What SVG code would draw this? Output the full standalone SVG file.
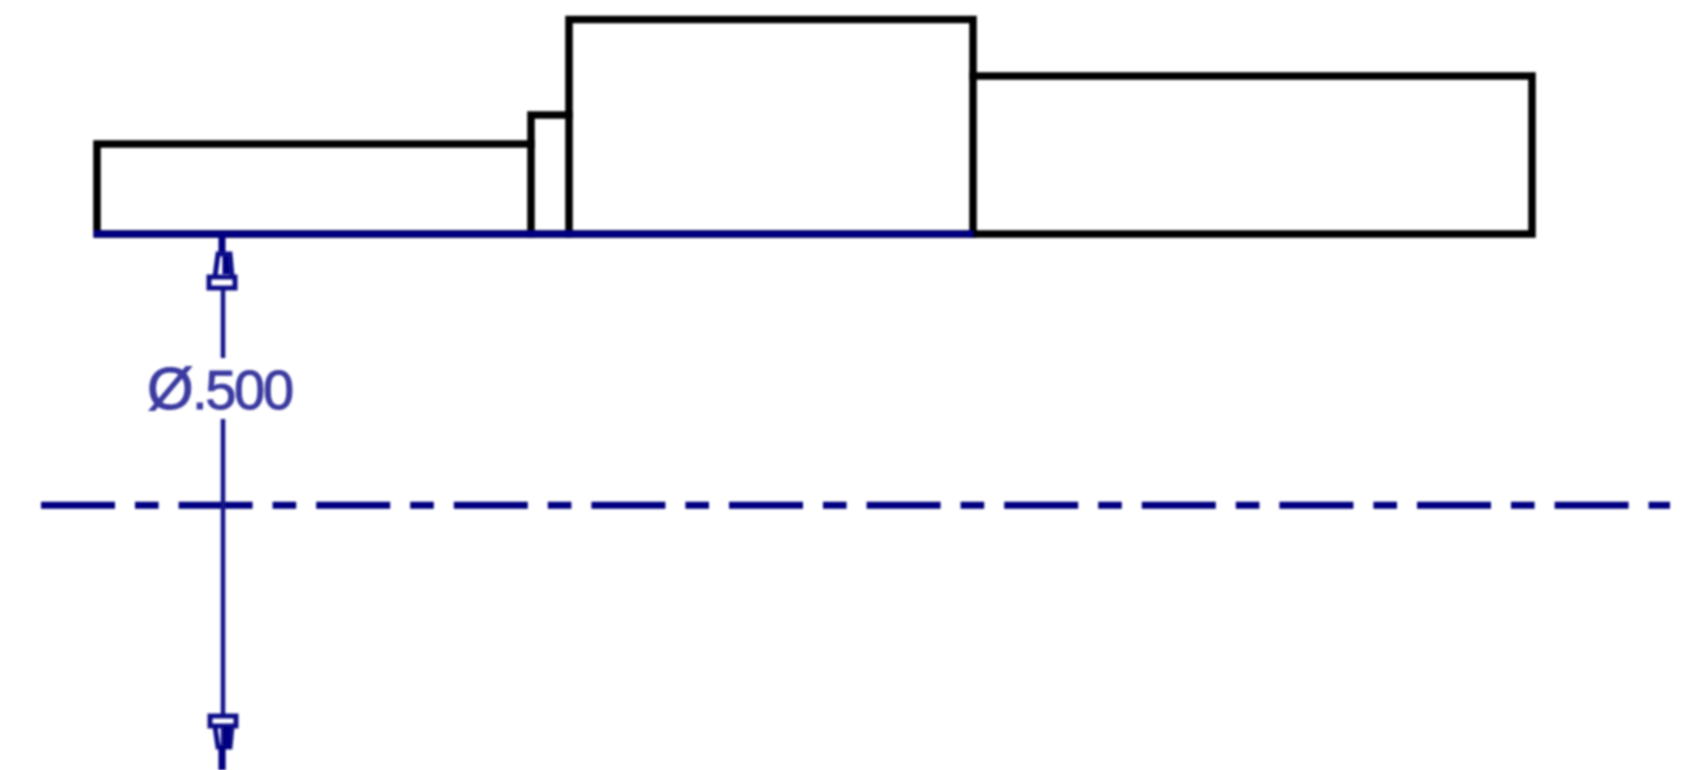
<svg xmlns="http://www.w3.org/2000/svg" width="1699" height="770" viewBox="0 0 1699 770">
<style>
.part{fill:none;stroke:#000;stroke-width:7.5;stroke-linejoin:miter;stroke-linecap:square}
.dim{fill:none;stroke:#16168c;stroke-width:4.5}
.base{fill:none;stroke:#000080;stroke-width:7}
.center{fill:none;stroke:#000080;stroke-width:7;stroke-dasharray:74 20 23.6 20}
.head{fill:none;stroke:#10108a;stroke-width:5;stroke-linejoin:miter}
.heavy{fill:none;stroke:#000080;stroke-width:7}
.label{font-family:"Liberation Sans",Arial,sans-serif;font-size:56px;fill:#3a3aa0;stroke:#3a3aa0;stroke-width:1}
</style>
<defs><filter id="soft" filterUnits="userSpaceOnUse" x="0" y="0" width="1699" height="770"><feGaussianBlur stdDeviation="1"/></filter></defs>
<rect width="1699" height="770" fill="#fff"/>
<g filter="url(#soft)">
<g id="shaft">
<path class="part" d="M97 234V144H531V115H569V19.500H973V76H1532V234H97"/>
<path class="part" d="M531 144V234M569 115V234M973 76V234"/>
</g>
<g id="connectors">
<path class="base" d="M94 234H973"/>
<path class="center" d="M41 505.300H1670"/>
<path class="dim" d="M223 288V358M223 419V716M223 726V770"/>
<path class="heavy" d="M222 234V256M226 252V274"/>
<path class="head" d="M218 254L215 277H232L230 254ZM209 277H235V288H209Z"/>
<path class="head" d="M210 716H236V726H210ZM215 726L218 747H230L232 726Z"/>
<path class="heavy" d="M227 727V748M222 746V770"/>
</g>
<g id="dimension-label">
<text class="label" y="409"><tspan x="147" font-size="60">Ø</tspan><tspan x="192" letter-spacing="-2.300">.500</tspan></text>
</g>
</g>
</svg>
